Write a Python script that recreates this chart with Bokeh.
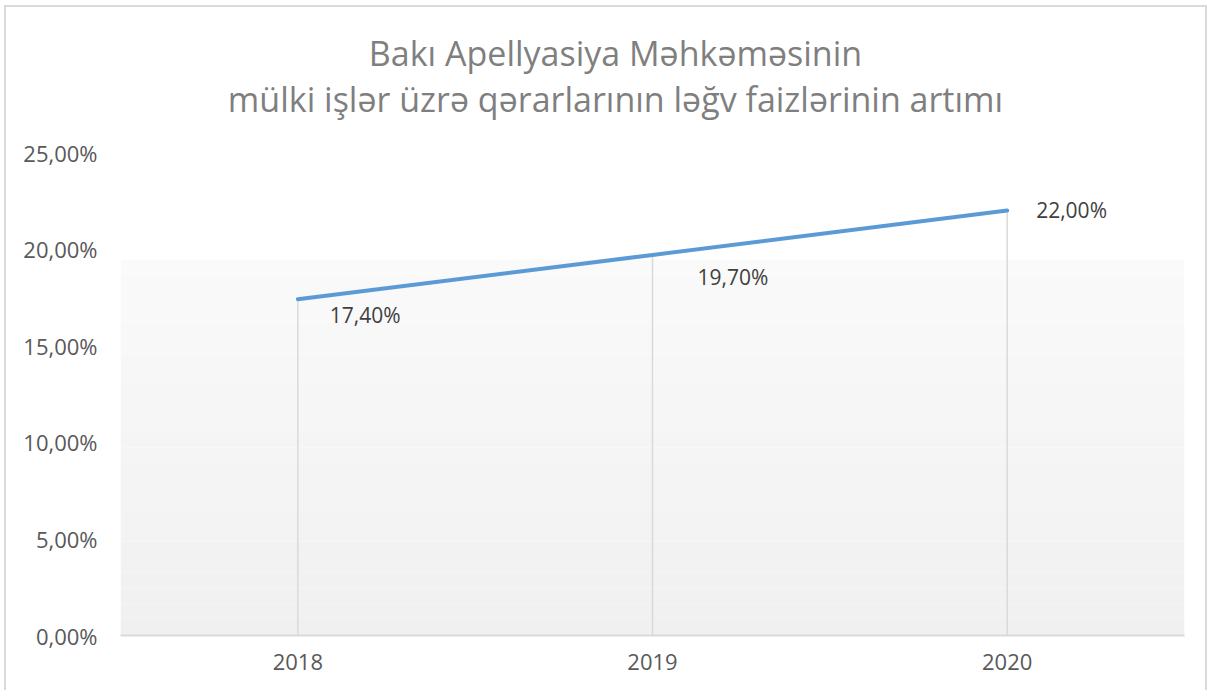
from bokeh.plotting import figure
from bokeh.models import (ColumnDataSource, FactorRange, Range1d, FixedTicker,
                          CustomJSTickFormatter, BoxAnnotation, Label)
from bokeh.core.properties import value
from bokeh.embed import file_html
from bokeh.resources import INLINE

# ---- data ----
years = ["2018", "2019", "2020"]
rates = [17.4, 19.7, 22.0]
rate_labels = ["17,40%", "19,70%", "22,00%"]
y_ticks = [0, 5, 10, 15, 20, 25]
title_lines = ["Bakı Apellyasiya Məhkəməsinin",
               "mülki işlər üzrə qərarlarının ləğv faizlərinin artımı"]

# ---- layout / style ----
lab_dx = [32, 45, 29]
lab_dy = [16, 22, 0]
title_x = 495            # screen px from plot-area left
title_y = [583, 537]     # screen px from plot-area bottom

FONT = "Open Sans"
TITLE_SIZE = "34px"
TITLE_COLOR = "#7f7f7f"
W, H = 1203, 685
B_LEFT, B_RIGHT, B_TOP, B_BOTTOM = 114, 25, 0, 57
AXIS_TOP_PX = 483        # pixel height of the 0..25 span
frame_h = H - B_TOP - B_BOTTOM
y_top = y_ticks[-1] * frame_h / AXIS_TOP_PX   # empty room above the axis for the title

src = ColumnDataSource(dict(x=years, y=rates, base=[0] * len(years),
                            lab=rate_labels, dx=lab_dx, dy=lab_dy))

p = figure(x_range=FactorRange(factors=years, range_padding=0),
           y_range=Range1d(0, y_top),
           width=W, height=H,
           output_backend="svg", toolbar_location=None,
           min_border_left=B_LEFT, min_border_right=B_RIGHT,
           min_border_top=B_TOP, min_border_bottom=B_BOTTOM)

# two centred title lines
for txt, ty in zip(title_lines, title_y):
    p.add_layout(Label(x=title_x, y=ty, x_units="screen", y_units="screen",
                       text=txt, text_align="center",
                       text_baseline="middle", text_font=FONT,
                       text_font_size=TITLE_SIZE, text_color=TITLE_COLOR))

p.outline_line_color = None
p.background_fill_color = "white"
p.border_fill_color = "white"
p.xgrid.grid_line_color = None
p.ygrid.grid_line_color = None

# subtle gradient background in the lower part of the plot area
n_bands = 24
top_val = 19.45
c0, c1 = 0xFA, 0xF0
for i in range(n_bands):
    b = top_val * i / n_bands
    t = top_val * (i + 1) / n_bands
    g = int(round(c1 + (c0 - c1) * (i + 0.5) / n_bands))
    col = "#%02x%02x%02x" % (g, g, g)
    p.add_layout(BoxAnnotation(bottom=b, top=t, fill_color=col, fill_alpha=1,
                               line_color=None, level="underlay"))

# drop lines
p.segment(x0="x", y0="base", x1="x", y1="y", source=src,
          line_color="#d9d9d9", line_width=1.5)

# main line
p.line(x="x", y="y", source=src, line_color="#5b9bd5", line_width=4,
       line_cap="round", line_join="round")

# data labels
p.text(x="x", y="y", text="lab", source=src, x_offset="dx", y_offset="dy",
       text_font=value(FONT), text_font_size="21px", text_color="#404040",
       text_align="left", text_baseline="middle")

# axes
p.yaxis.ticker = FixedTicker(ticks=y_ticks)
p.yaxis.formatter = CustomJSTickFormatter(
    code="return tick.toFixed(2).replace('.', ',') + '%';")
p.yaxis.axis_line_color = None
p.yaxis.major_tick_line_color = None
p.yaxis.major_tick_out = 0
p.yaxis.major_tick_in = 0
p.yaxis.minor_tick_line_color = None
p.yaxis.major_label_text_font = FONT
p.yaxis.major_label_text_font_size = "22px"
p.yaxis.major_label_text_color = "#595959"
p.yaxis.major_label_standoff = 23

p.xaxis.axis_line_color = "#d9d9d9"
p.xaxis.axis_line_width = 2
p.xaxis.major_tick_line_color = None
p.xaxis.major_tick_out = 0
p.xaxis.major_tick_in = 0
p.xaxis.minor_tick_line_color = None
p.xaxis.major_label_text_font = FONT
p.xaxis.major_label_text_font_size = "22px"
p.xaxis.major_label_text_color = "#595959"
p.xaxis.major_label_standoff = 18

p.styles = {"border": "2px solid #d9d9d9", "border-bottom": "none",
            "margin-left": "4px", "margin-top": "5px"}

open("out.html", "w").write(file_html(p, INLINE))
